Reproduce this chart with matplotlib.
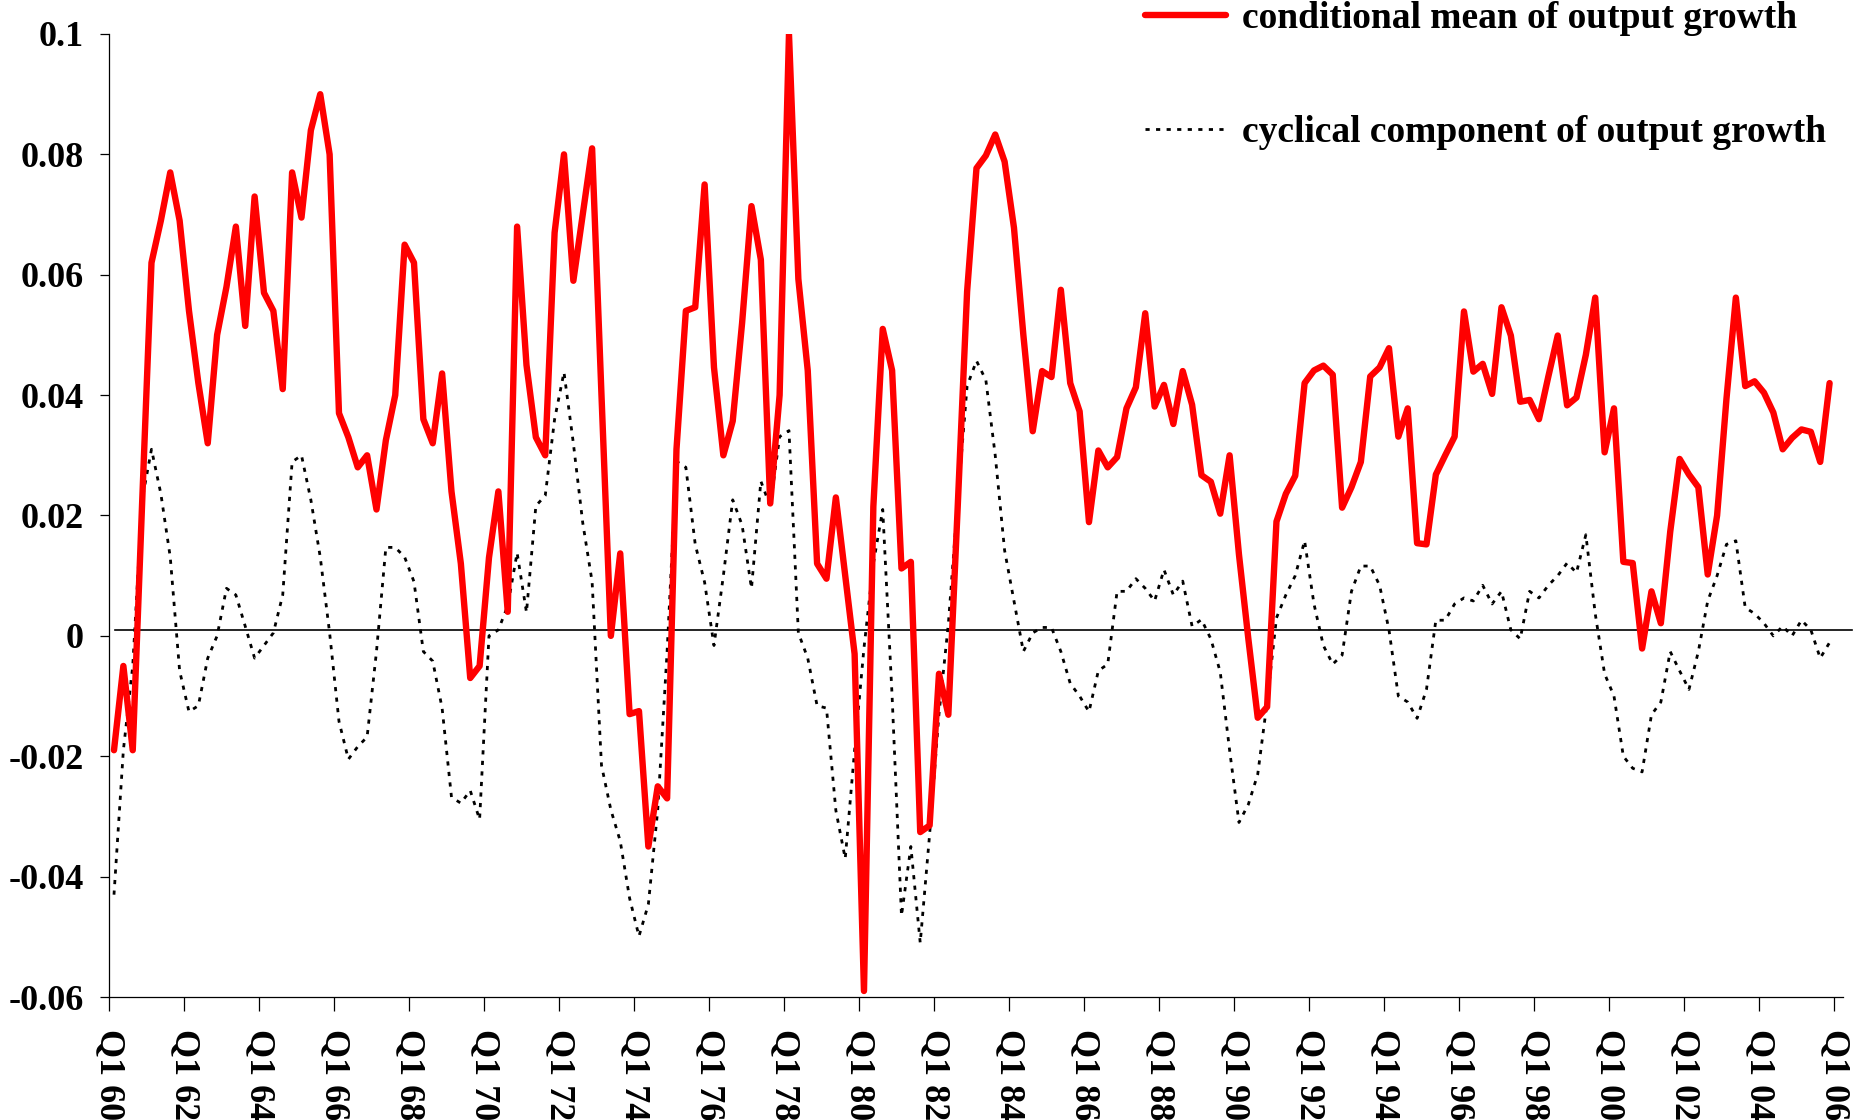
import matplotlib
matplotlib.use("Agg")
import matplotlib.pyplot as plt
import numpy as np

# x-axis tick labels (every 8 quarters)
tick_labels = ["Q1 60", "Q1 62", "Q1 64", "Q1 66", "Q1 68", "Q1 70", "Q1 72", "Q1 74",
               "Q1 76", "Q1 78", "Q1 80", "Q1 82", "Q1 84", "Q1 86", "Q1 88", "Q1 90",
               "Q1 92", "Q1 94", "Q1 96", "Q1 98", "Q1 00", "Q1 02", "Q1 04", "Q1 06"]

y_ticks = [0.1, 0.08, 0.06, 0.04, 0.02, 0.0, -0.02, -0.04, -0.06]
y_tick_labels = ["0.1", "0.08", "0.06", "0.04", "0.02", "0", "-0.02", "-0.04", "-0.06"]

# conditional mean of output growth (quarterly, Q1 1960 - Q4 2005)
cond_mean = [
    -0.019, -0.005, -0.019, 0.022, 0.062, 0.069, 0.077, 0.069, 0.054, 0.042,
    0.032, 0.050, 0.058, 0.068, 0.0515, 0.073, 0.057, 0.054, 0.041, 0.077,
    0.0695, 0.084, 0.090, 0.080, 0.037, 0.033, 0.028, 0.030, 0.021, 0.0325,
    0.040, 0.065, 0.062, 0.036, 0.032, 0.0436, 0.024, 0.012, -0.007, -0.005,
    0.013, 0.024, 0.004, 0.068, 0.045, 0.033, 0.030, 0.067, 0.080, 0.059,
    0.070, 0.081, 0.040, 0.000, 0.0137, -0.013, -0.0125, -0.035, -0.025, -0.027,
    0.031, 0.054, 0.0546, 0.075, 0.0446, 0.030, 0.0357, 0.052, 0.0714, 0.0625,
    0.022, 0.040, 0.100, 0.0593, 0.0441, 0.012, 0.0095, 0.023, 0.010, -0.003,
    -0.059, 0.0215, 0.051, 0.0441, 0.0112, 0.0123, -0.0326, -0.0315, -0.0063, -0.0131,
    0.0215, 0.0572, 0.0777, 0.0798, 0.0833, 0.0788, 0.0678, 0.050, 0.034, 0.044,
    0.043, 0.0575, 0.042, 0.0373, 0.0189, 0.0308, 0.028, 0.0297, 0.0378, 0.0413,
    0.0536, 0.0381, 0.0417, 0.0352, 0.044, 0.0384, 0.0267, 0.0256, 0.0203, 0.030,
    0.0135, -0.0005, -0.0136, -0.0118, 0.019, 0.0236, 0.0266, 0.042, 0.0441, 0.0449,
    0.0434, 0.0213, 0.0247, 0.0289, 0.0431, 0.0446, 0.0478, 0.0331, 0.0378, 0.0154,
    0.0152, 0.0268, 0.030, 0.0331, 0.0539, 0.0439, 0.0452, 0.0402, 0.0546, 0.0499,
    0.0389, 0.0392, 0.036, 0.0431, 0.0499, 0.0383, 0.0396, 0.0467, 0.0562, 0.0305,
    0.0378, 0.0123, 0.0121, -0.0021, 0.0074, 0.0021, 0.0173, 0.0294, 0.0268, 0.0247,
    0.0102, 0.020, 0.0394, 0.0562, 0.0415, 0.0423, 0.0404, 0.0371, 0.031, 0.0329,
    0.0343, 0.0339, 0.0289, 0.042,
]

# cyclical component of output growth
cyclical = [
    -0.043, -0.019, -0.005, 0.0226, 0.031, 0.0236, 0.0131, -0.0058, -0.0126, -0.0116,
    -0.0037, 0.000, 0.0079, 0.0068, 0.0016, -0.0037, -0.0016, 0.0005, 0.0068, 0.0289,
    0.030, 0.0226, 0.0131, 0.0005, -0.0142, -0.0205, -0.0184, -0.0168, -0.0026, 0.0147,
    0.0147, 0.0131, 0.009, -0.0026, -0.0042, -0.012, -0.0268, -0.0278, -0.0257, -0.0305,
    0.000, 0.001, 0.005, 0.0138, 0.0039, 0.0216, 0.0233, 0.036, 0.0438, 0.032,
    0.0188, 0.009, -0.0215, -0.0289, -0.0341, -0.0436, -0.0499, -0.0446, -0.0289, -0.0026,
    0.029, 0.028, 0.0152, 0.0089, -0.0016, 0.010, 0.0226, 0.0184, 0.0079, 0.0257,
    0.0215, 0.0331, 0.0341, 0.0005, -0.0037, -0.0116, -0.012, -0.029, -0.037, -0.019,
    -0.002, 0.012, 0.021, -0.010, -0.0465, -0.035, -0.051, -0.033, -0.013, 0.002,
    0.0226, 0.0415, 0.0457, 0.0425, 0.030, 0.0142, 0.0058, -0.0026, 0.0005, 0.0014,
    0.0014, -0.0026, -0.0079, -0.010, -0.0126, -0.0058, -0.0047, 0.0074, 0.0074, 0.0095,
    0.0079, 0.0058, 0.011, 0.0068, 0.0091, 0.0016, 0.0027, -0.0005, -0.006, -0.019,
    -0.031, -0.028, -0.023, -0.011, 0.003, 0.0068, 0.010, 0.0158, 0.0053, -0.0016,
    -0.0047, -0.0032, 0.0074, 0.0116, 0.0116, 0.0084, 0.001, -0.010, -0.011, -0.0137,
    -0.0089, 0.0026, 0.0026, 0.0053, 0.0063, 0.0058, 0.0084, 0.0053, 0.0074, 0.001,
    -0.0005, 0.0074, 0.0063, 0.0084, 0.010, 0.0121, 0.0105, 0.0168, 0.0037, -0.0063,
    -0.010, -0.020, -0.022, -0.0226, -0.0131, -0.011, -0.0026, -0.0058, -0.0089, -0.0026,
    0.0058, 0.010, 0.0152, 0.0158, 0.0047, 0.0037, 0.0021, 0.000, 0.0016, 0.000,
    0.0026, 0.001, -0.0037, -0.0011,
]

FONT = ["Liberation Serif", "DejaVu Serif"]
plt.rcParams["font.family"] = FONT
plt.rcParams["font.weight"] = "bold"

n = len(cond_mean)
x = np.arange(n) + 0.5  # points centred in each quarter slot

fig = plt.figure(figsize=(18.54, 11.2), dpi=100)
ax = fig.add_axes([109.3 / 1854, 1 - 997 / 1120, (1843 - 109.3) / 1854, (997 - 34) / 1120])

ax.plot(x, cond_mean, color="#ff0000", lw=4.6, solid_joinstyle="round",
        solid_capstyle="round", zorder=3, label="conditional mean of output growth")
ax.plot(x, cyclical, color="black", lw=2.0, linestyle=(0, (1.5, 2.3)),
        zorder=2, label="cyclical component of output growth")
ax.axhline(0.001, xmin=0.0033, xmax=1.0052, color="black", lw=1.2,
           clip_on=False, zorder=1)

ax.set_xlim(0, 184.93)
ax.set_ylim(-0.06, 0.1)

ax.set_xticks(np.arange(0, 185, 8))
ax.set_xticklabels(tick_labels, rotation=-90, fontsize=26, fontweight="bold",
                   ha="center", va="top")
ax.set_yticks(y_ticks)
ax.set_yticklabels(y_tick_labels, fontsize=26, fontweight="bold")

ax.tick_params(axis="x", direction="out", length=10, width=0.9, pad=13)
ax.tick_params(axis="y", direction="out", length=6.5, width=0.9, pad=12)

for s in ["top", "right"]:
    ax.spines[s].set_visible(False)
for s in ["left", "bottom"]:
    ax.spines[s].set_linewidth(0.9)

leg = ax.legend(loc="upper left", bbox_to_anchor=(1145 / 1854, 0.999),
                bbox_transform=fig.transFigure, frameon=False,
                prop={"family": FONT, "weight": "bold", "size": 27},
                handlelength=2.15, handletextpad=0.45, labelspacing=2.1,
                borderpad=0, borderaxespad=0)

fig.savefig("out.png", dpi=100)
